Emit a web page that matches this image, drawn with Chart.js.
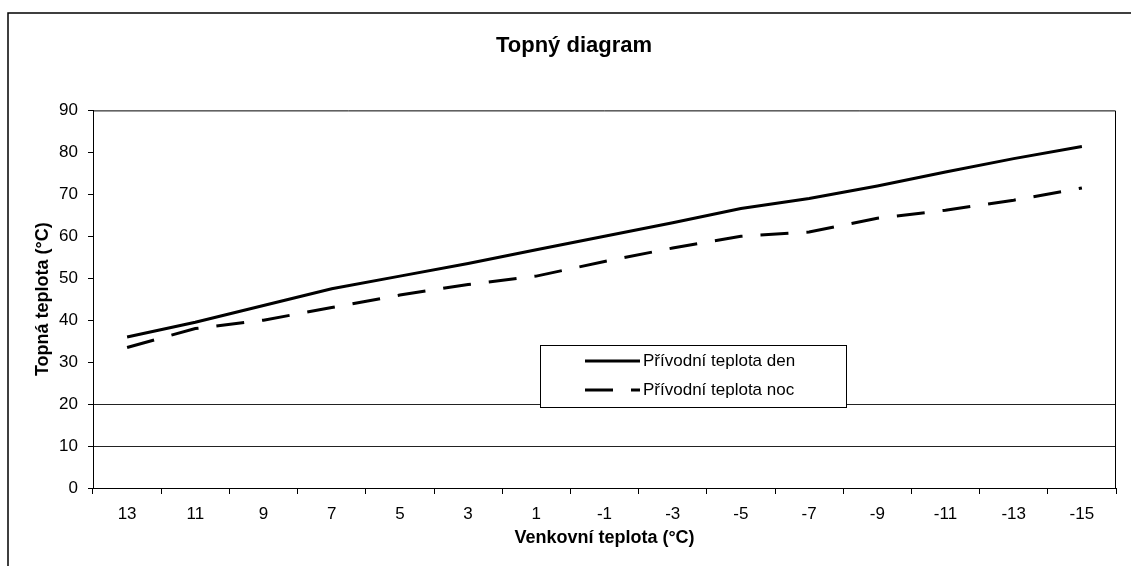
<!DOCTYPE html>
<html>
<head>
<meta charset="utf-8">
<title>Topný diagram</title>
<script src="https://cdn.jsdelivr.net/npm/chart.js@4.4.0/dist/chart.umd.min.js"></script>
<style>
    html, body { margin: 0; padding: 0; background: #fff; }
    #wrap { width: 1131px; height: 566px; position: relative; }
</style>
</head>
<body>
<div id="wrap"><canvas id="heatChart"></canvas></div>
<script>
// Venkovní teplota - categories on the x axis
var outsideTemps = ['13', '11', '9', '7', '5', '3', '1', '-1', '-3', '-5', '-7', '-9', '-11', '-13', '-15'];
// Přívodní teplota den (solid line)
var supplyDay = [36, 39.5, 43.5, 47.5, 50.5, 53.5, 56.8, 60, 63.2, 66.6, 69, 72, 75.3, 78.5, 81.4];
// Přívodní teplota noc (dashed line)
var supplyNight = [33.5, 38, 40, 43, 46, 48.5, 50.5, 54, 57.2, 60, 61, 64.3, 66.2, 68.6, 71.5];
// y axis range and the only gridlines visible in the scan
var yMin = 0, yMax = 90, yStep = 10;
var shownGridLines = [10, 20];

var fontFamily = "'Liberation Sans', Arial, sans-serif";

// Frame round the plot, outer frame and the legend box inside the chart
var framePlugin = {
    id: 'framePlugin',
    afterDraw: function (chart) {
        var ctx = chart.ctx;
        var area = chart.chartArea;
        ctx.save();

        // outer frame (left and top edges)
        ctx.strokeStyle = '#000';
        ctx.lineWidth = 1.5;
        ctx.beginPath();
        ctx.moveTo(8, 566);
        ctx.lineTo(8, 13);
        ctx.lineTo(1131, 13);
        ctx.stroke();

        // plot area top and right edges
        ctx.lineWidth = 1;
        ctx.beginPath();
        ctx.moveTo(area.left, area.top + 0.5);
        ctx.lineTo(area.right - 0.5, area.top + 0.5);
        ctx.lineTo(area.right - 0.5, area.bottom);
        ctx.stroke();

        // legend
        var box = { x: 540, y: 345, w: 306, h: 62 };
        ctx.fillStyle = '#fff';
        ctx.fillRect(box.x, box.y, box.w, box.h);
        ctx.strokeStyle = '#000';
        ctx.lineWidth = 1;
        ctx.strokeRect(box.x + 0.5, box.y + 0.5, box.w, box.h);

        var rows = [361, 390];
        chart.data.datasets.forEach(function (ds, i) {
            var y = rows[i];
            ctx.strokeStyle = ds.borderColor;
            ctx.lineWidth = ds.borderWidth;
            ctx.setLineDash(ds.borderDash || []);
            ctx.beginPath();
            ctx.moveTo(585, y);
            ctx.lineTo(640, y);
            ctx.stroke();
            ctx.setLineDash([]);
            ctx.fillStyle = '#000';
            ctx.font = '17px ' + fontFamily;
            ctx.textBaseline = 'middle';
            ctx.textAlign = 'left';
            ctx.fillText(ds.label, 643, y);
        });
        ctx.restore();
    }
};

var ctx = document.getElementById('heatChart').getContext('2d');
var heatChart = new Chart(ctx, {
    type: 'line',
    data: {
        labels: outsideTemps,
        datasets: [{
            label: 'Přívodní teplota den',
            data: supplyDay,
            borderColor: '#000',
            borderWidth: 3,
            pointRadius: 0,
            fill: false
        }, {
            label: 'Přívodní teplota noc',
            data: supplyNight,
            borderColor: '#000',
            borderWidth: 3,
            borderDash: [28, 18],
            pointRadius: 0,
            fill: false
        }]
    },
    options: {
        responsive: true,
        maintainAspectRatio: false,
        animation: false,
        layout: { padding: { left: 32, right: 15, top: 0, bottom: 0 } },
        plugins: {
            legend: { display: false },
            tooltip: { enabled: false },
            title: {
                display: true,
                text: 'Topný diagram',
                color: '#000',
                font: { family: fontFamily, size: 22, weight: 'bold' },
                padding: { top: 33, bottom: 51 }
            }
        },
        scales: {
            x: {
                offset: true,
                afterFit: function (scale) { scale.height = 566 - 488; },
                grid: {
                    offset: true,
                    drawOnChartArea: false,
                    tickColor: '#000',
                    tickLength: 6
                },
                border: { color: '#000', width: 1 },
                ticks: {
                    color: '#000',
                    font: { family: fontFamily, size: 17 },
                    padding: 10,
                    maxRotation: 0
                },
                title: {
                    display: true,
                    text: 'Venkovní teplota (°C)',
                    color: '#000',
                    font: { family: fontFamily, size: 18, weight: 'bold' },
                    padding: { top: 0, bottom: 17 }
                }
            },
            y: {
                min: yMin,
                max: yMax,
                afterFit: function (scale) { scale.width = 93 - 32; },
                grid: {
                    color: function (c) {
                        return shownGridLines.indexOf(c.tick && c.tick.value) >= 0 ? '#222' : 'rgba(0,0,0,0)';
                    },
                    tickColor: '#000',
                    tickLength: 5
                },
                border: { color: '#000', width: 1 },
                ticks: {
                    stepSize: yStep,
                    color: '#000',
                    font: { family: fontFamily, size: 17 },
                    padding: 10
                },
                title: {
                    display: true,
                    text: 'Topná teplota (°C)',
                    color: '#000',
                    font: { family: fontFamily, size: 18, weight: 'bold' },
                    padding: { top: 0, bottom: 0 }
                }
            }
        }
    },
    plugins: [framePlugin]
});
</script>
</body>
</html>
